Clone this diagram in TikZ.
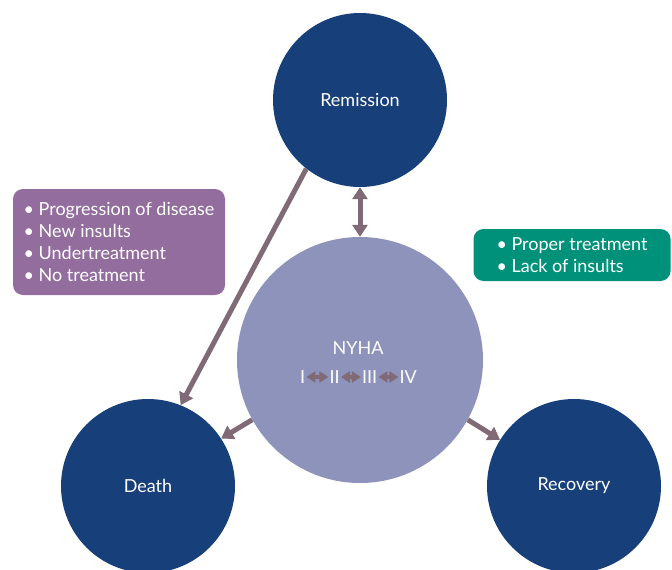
\documentclass[tikz,border=0pt]{standalone}
\usepackage{fontspec}
\setmainfont{Lato}
\usepackage{xcolor}
\usetikzlibrary{arrows.meta,positioning}
\definecolor{navyc}{HTML}{173F7A}
\definecolor{nyhac}{HTML}{8D93BA}
\definecolor{arc}{HTML}{806A76}
\definecolor{purpc}{HTML}{936D9D}
\definecolor{greenc}{HTML}{00917A}
\tikzset{
  ar/.style={-{Triangle[width=15pt,length=12pt]},line width=5pt,arc},
  dar/.style={{Triangle[width=15pt,length=12pt]}-{Triangle[width=15pt,length=12pt]},line width=5pt,arc},
  sar/.style={{Triangle[width=11pt,length=9pt]}-{Triangle[width=11pt,length=9pt]},line width=3.5pt,arc,shorten <=1pt,shorten >=1pt},
  state/.style={circle,fill=navyc,minimum size=174pt,inner sep=0pt,text=white,font=\fontsize{18}{22}\selectfont},
  box/.style={rounded corners=10pt,text=white,align=left,inner sep=0pt,font=\fontsize{18}{22}\selectfont},
  rom/.style={inner sep=0pt,text=white,font=\fontsize{18}{22}\selectfont}
}
\begin{document}
\begin{tikzpicture}[x=1pt,y=-1pt]
\useasboundingbox (0,0) rectangle (672,570);
\node[state] (rem) at (360,100) {Remission};
\node[circle,fill=nyhac,minimum size=246pt,inner sep=0pt] (nyha) at (360,360) {};
\node[state] (death) at (148,486) {Death};
\node[state] (recov) at (574,486) {Recovery};
\node[rom] (lbl) at (358,348) {NYHA};
\node[rom,anchor=west] (n1) at (300,377) {I};
\node[rom,right=24pt of n1] (n2) {II};
\node[rom,right=22pt of n2] (n3) {III};
\node[rom,right=22pt of n3] (n4) {IV};
\draw[sar] (n1) -- (n2);
\draw[sar] (n2) -- (n3);
\draw[sar] (n3) -- (n4);
\node[box,fill=purpc,minimum width=212pt,minimum height=106pt] (worse) at (119,242)
  {• Progression of disease\\• New insults\\• Undertreatment\\• No treatment};
\node[box,fill=greenc,minimum width=197pt,minimum height=52pt] (better) at (572,255)
  {• Proper treatment\\• Lack of insults};
\draw[dar] (rem.south) -- (nyha.north);
\draw[ar] (rem.232) -- (death.68);
\draw[ar] (nyha.209) -- (death.33);
\draw[ar] (nyha.331) -- (recov.148);
\end{tikzpicture}
\end{document}
